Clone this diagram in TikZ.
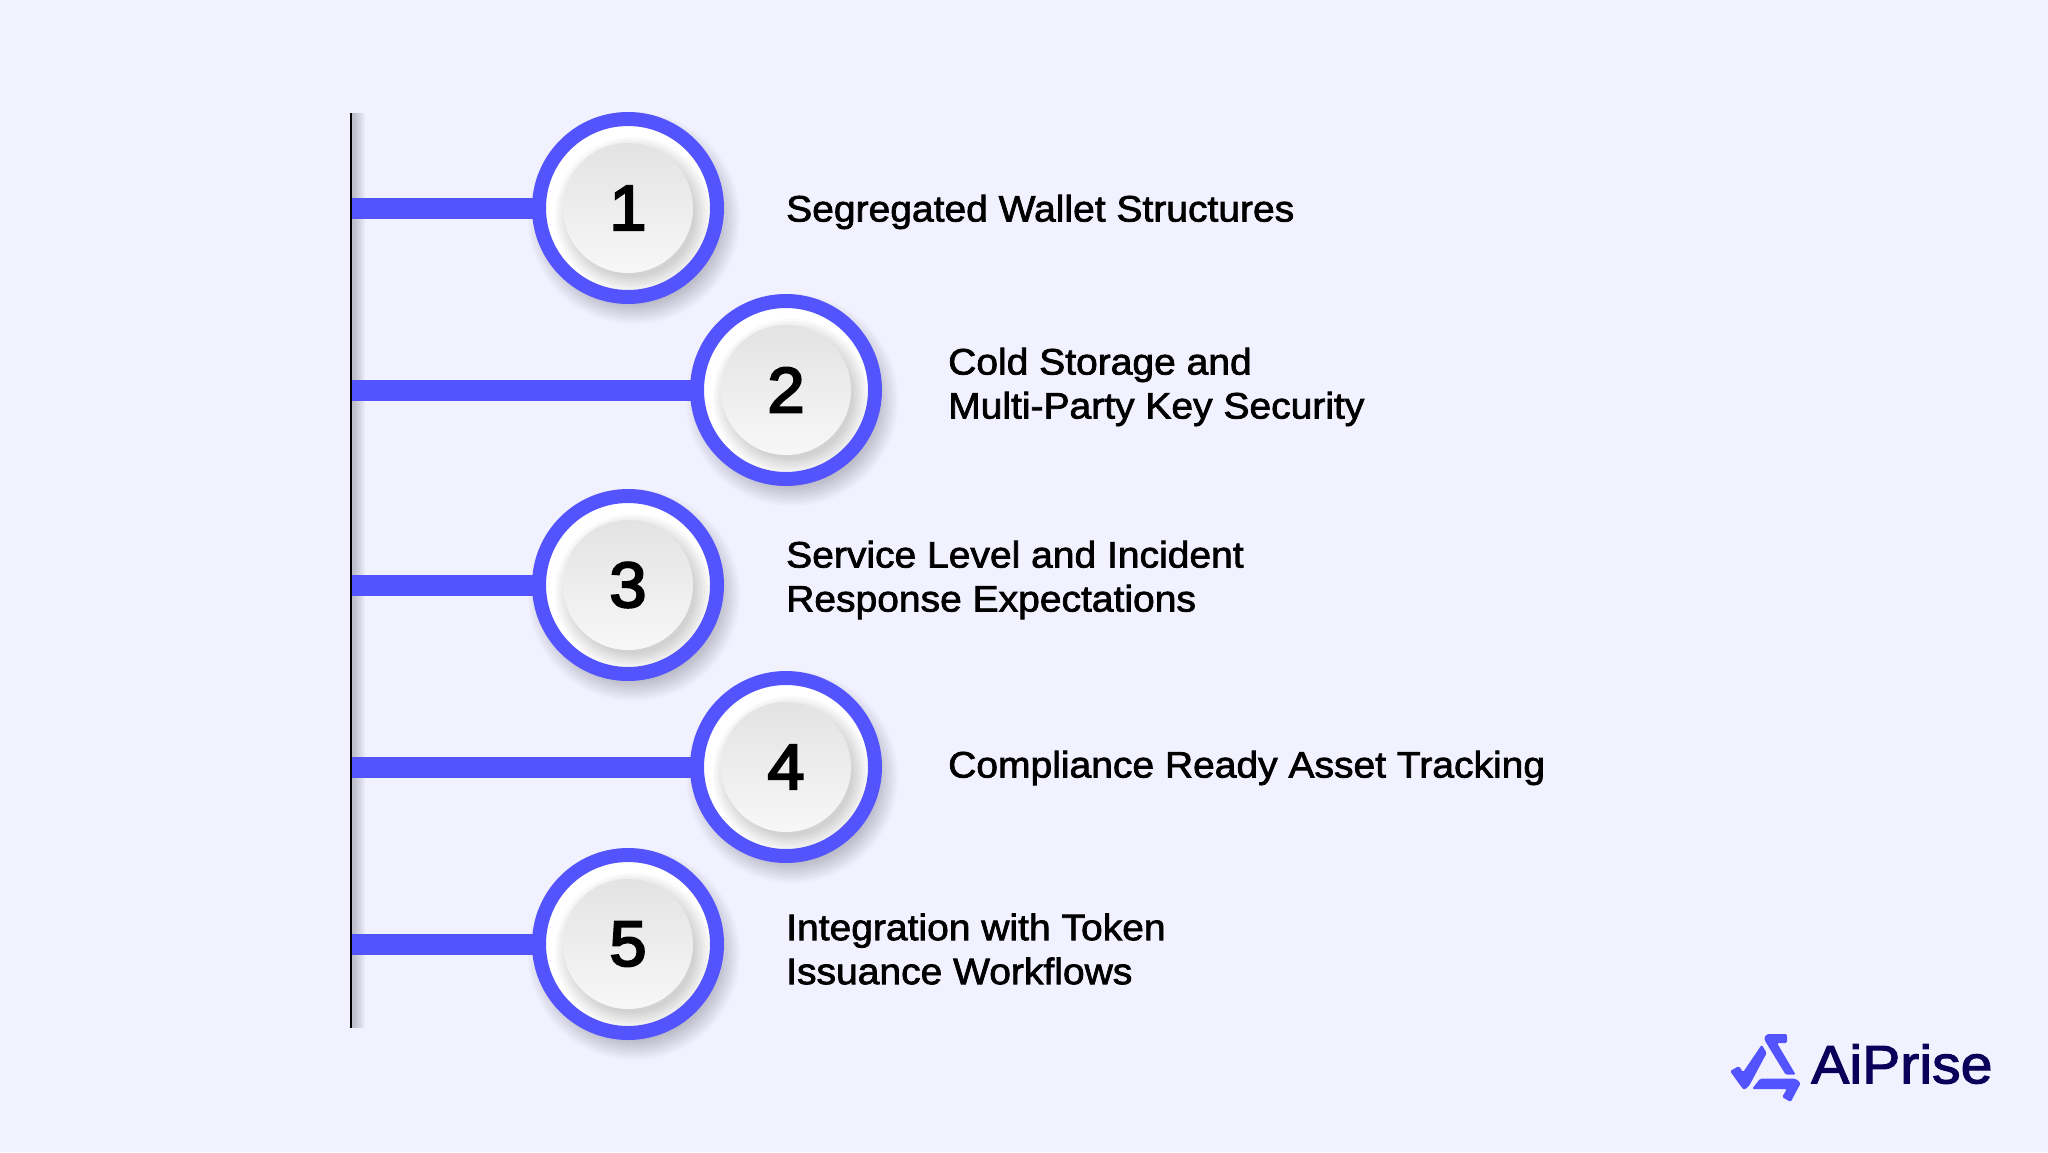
\documentclass[tikz,border=0pt]{standalone}
\usepackage{fontspec}
\setmainfont{Liberation Sans}
\newfontfamily\labelfont[FakeBold=2,FakeStretch=1.06]{Liberation Sans}
\newfontfamily\numfont[FakeBold=3.5,FakeStretch=1.04]{Liberation Sans}
\usetikzlibrary{positioning}
\definecolor{pagebg}{HTML}{F1F1FF}
\definecolor{ringblue}{HTML}{5454FF}
\definecolor{logonavy}{HTML}{0A0059}
\tikzset{
    barline/.style={draw=ringblue, line width=21pt, shorten >=-3pt},
    spineline/.style={draw=black, line width=2.4pt},
    ringnode/.style={circle, draw=ringblue, line width=14pt, minimum size=178pt, inner sep=0pt, fill=white},
    numlabel/.style={font=\numfont\fontsize{64}{64}\selectfont, text=black},
    itemlabel/.style={font=\labelfont\fontsize{36.8}{44}\selectfont, align=left, anchor=west, inner sep=0pt, text=black},
    logopart/.style={fill=ringblue, rounded corners=1.5pt},
}
\newcommand{\ringshadow}[2]{% soft drop shadow under a ring
    \foreach \r in {106,104,...,84}
        {
            \fill[black, opacity=0.018] (#1+6,#2+10) circle (\r);
        }
}
\newcommand{\ringface}[2]{% inner disc of a ring
    \begin{scope}
        \clip (#1,#2) circle (82);
        \foreach \r in {78,76,...,62}
            {
                \fill[black, opacity=0.018] (#1+5,#2+7) circle (\r);
            }
    \end{scope}
    \shade[top color=black!11, bottom color=black!3] (#1,#2) circle (65);
}
\begin{document}
\begin{tikzpicture}[x=1pt, y=-1pt]
    \useasboundingbox (0,0) rectangle (2048,1152);
    \fill[pagebg] (0,0) rectangle (2048,1152);
    % shadow of the spine
    \foreach \w in {2,4,...,12}
        {
            \fill[black, opacity=0.035] (351,113) rectangle (353+\w,1028);
        }
    \coordinate (spinetop) at (351,113);
    \coordinate (spinebot) at (351,1028);
    \coordinate (spineA) at (351,208);
    \coordinate (spineB) at (351,390);
    \coordinate (spineC) at (351,585);
    \coordinate (spineD) at (351,767);
    \coordinate (spineE) at (351,944);
    \foreach \cx/\cy in {628/208,786/390,628/585,786/767,628/944}
        {
            \ringshadow{\cx}{\cy}
        }
    \node[ringnode] (ringA) at (628,208) {};
    \node[ringnode] (ringB) at (786,390) {};
    \node[ringnode] (ringC) at (628,585) {};
    \node[ringnode] (ringD) at (786,767) {};
    \node[ringnode] (ringE) at (628,944) {};
    \draw[barline] (spineA) -- (ringA);
    \draw[barline] (spineB) -- (ringB);
    \draw[barline] (spineC) -- (ringC);
    \draw[barline] (spineD) -- (ringD);
    \draw[barline] (spineE) -- (ringE);
    \draw[spineline] (spinetop) -- (spinebot);
    \foreach \cx/\cy in {628/208,786/390,628/585,786/767,628/944}
        {
            \ringface{\cx}{\cy}
        }
    \node[numlabel] (numA) at (ringA) {1};
    \node[numlabel] (numB) at (ringB) {2};
    \node[numlabel] (numC) at (ringC) {3};
    \node[numlabel] (numD) at (ringD) {4};
    \node[numlabel] (numE) at (ringE) {5};
    \node[itemlabel] (textA) at (786,212) {Segregated Wallet Structures};
    \node[itemlabel] (textB) at (948,387) {Cold Storage and\\Multi-Party Key Security};
    \node[itemlabel] (textC) at (786,580) {Service Level and Incident\\Response Expectations};
    \node[itemlabel] (textD) at (948,768) {Compliance Ready Asset Tracking};
    \node[itemlabel] (textE) at (786,949) {Integration with Token\\Issuance Workflows};
    % logo
    \fill[logopart] (1730,1071) -- (1739,1066) -- (1743,1072.3) -- (1761.7,1044.7) -- (1766.7,1053) -- (1749,1086) -- (1744,1090) -- (1740.7,1086) -- cycle;
    \fill[logopart] (1764,1038) -- (1767,1034) -- (1787,1034) -- (1787,1043) -- (1777,1043) -- (1795.7,1074.7) -- (1785.7,1074.7) -- (1765.7,1042) -- cycle;
    \fill[logopart] (1760,1078.7) -- (1795.7,1078.7) -- (1800.7,1083) -- (1790.7,1102) -- (1782,1097) -- (1787,1089) -- (1752,1089) -- cycle;
    \node[anchor=west, inner sep=0pt, font=\labelfont\fontsize{54}{54}\selectfont, text=logonavy] (logotext) at (1811,1064) {AiPrise};
\end{tikzpicture}
\end{document}
